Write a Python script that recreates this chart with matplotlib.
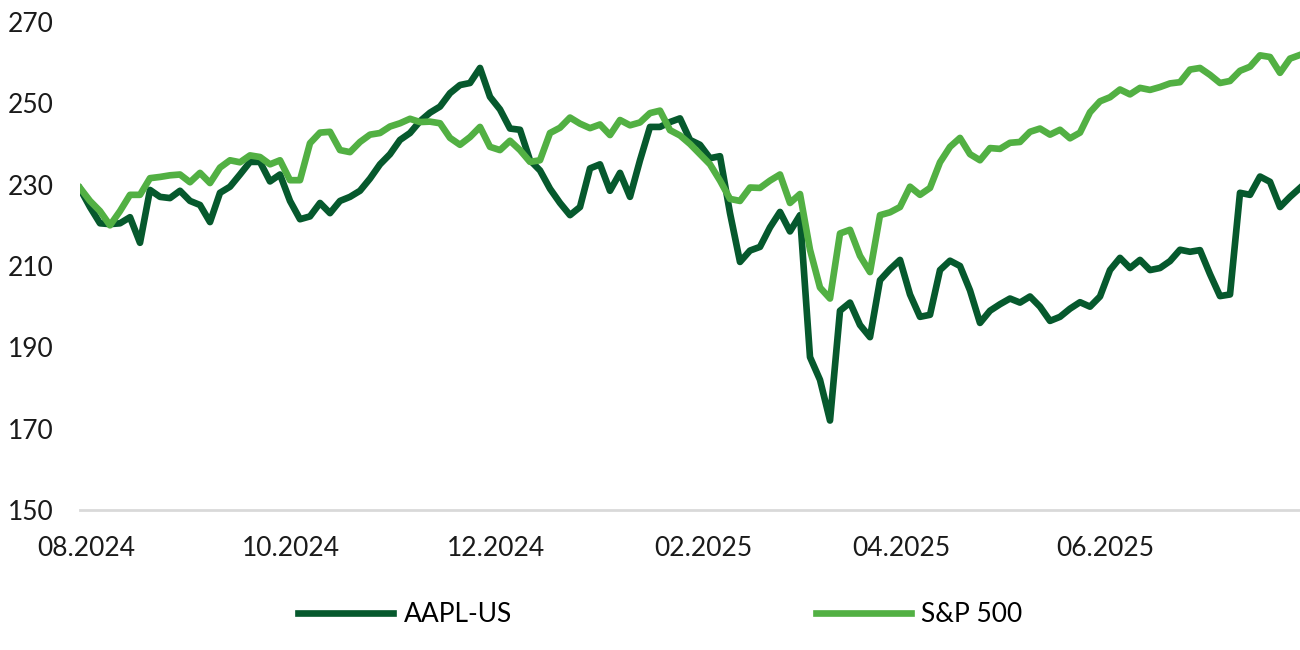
import matplotlib
matplotlib.use("Agg")
import matplotlib.pyplot as plt
import matplotlib.dates as mdates
import pandas as pd

# data (roughly every 3 days)
start_date = "2024-07-30"
end_date = "2025-07-29"

aapl = [229.0, 224.5, 220.5, 220.3, 220.5, 222.0, 215.7, 228.7, 227.0, 226.7,
        228.5, 226.0, 225.0, 220.8, 228.0, 229.5, 232.5, 235.6, 235.6, 230.8,
        232.5, 226.0, 221.5, 222.2, 225.5, 223.0, 226.0, 227.0, 228.5, 231.5,
        235.0, 237.5, 241.0, 242.7, 245.6, 247.7, 249.2, 252.5, 254.5, 255.0,
        258.7, 251.6, 248.5, 243.8, 243.5, 236.0, 233.5, 229.0, 225.5, 222.5,
        224.5, 234.0, 235.0, 228.5, 232.9, 227.0, 236.0, 244.2, 244.2, 245.4,
        246.3, 241.0, 239.8, 236.5, 237.0, 223.0, 211.0, 213.8, 214.7, 219.5,
        223.3, 218.5, 222.5, 187.6, 182.0, 172.0, 199.0, 201.0, 195.5, 192.5,
        206.5, 209.2, 211.5, 203.0, 197.5, 198.0, 209.0, 211.3, 210.0, 204.0,
        196.0, 199.0, 200.6, 202.0, 201.0, 202.5, 200.0, 196.5, 197.5, 199.5,
        201.1, 200.0, 202.5, 209.0, 212.0, 209.5, 211.5, 209.0, 209.5, 211.2,
        214.0, 213.5, 213.9, 208.0, 202.6, 203.0, 228.0, 227.5, 232.0, 230.7,
        224.5, 227.0, 229.2]

spx = [229.2, 226.0, 223.5, 220.0, 223.5, 227.5, 227.5, 231.6, 231.9, 232.3,
       232.5, 230.6, 232.9, 230.4, 234.2, 236.0, 235.5, 237.2, 236.8, 235.0,
       236.0, 231.1, 231.1, 240.2, 242.8, 243.0, 238.5, 238.0, 240.5, 242.3,
       242.7, 244.3, 245.1, 246.2, 245.4, 245.5, 245.1, 241.5, 239.8, 241.7,
       244.2, 239.3, 238.5, 240.8, 238.5, 235.6, 236.0, 242.7, 244.0, 246.5,
       245.0, 243.9, 244.8, 242.2, 245.9, 244.6, 245.3, 247.6, 248.2, 243.4,
       242.1, 240.0, 237.5, 235.0, 231.0, 226.5, 226.0, 229.3, 229.2, 231.0,
       232.5, 225.5, 227.7, 214.0, 204.7, 202.0, 218.0, 218.9, 212.5, 208.5,
       222.5, 223.2, 224.5, 229.5, 227.5, 229.2, 235.5, 239.3, 241.5, 237.5,
       236.0, 239.0, 238.8, 240.3, 240.5, 243.0, 243.8, 242.3, 243.5, 241.4,
       242.8, 247.8, 250.5, 251.5, 253.4, 252.2, 253.8, 253.3, 254.0, 254.9,
       255.2, 258.3, 258.7, 257.0, 255.0, 255.5, 258.0, 259.0, 261.8, 261.4,
       257.5, 261.0, 261.9]

series_names = ["AAPL-US", "S&P 500"]
colors = ["#06592d", "#52b043"]

dates = pd.date_range(start_date, end_date, periods=len(aapl))

plt.rcParams['font.family'] = ['Lato', 'DejaVu Sans']

fig = plt.figure(figsize=(13, 6.5), dpi=100)
ax = fig.add_axes([80 / 1300, 1 - 510 / 650, 1 - 80 / 1300, 488 / 650])

ax.plot(dates, aapl, color=colors[0], lw=4.8, label=series_names[0], solid_joinstyle='round')
ax.plot(dates, spx, color=colors[1], lw=4.8, label=series_names[1], solid_joinstyle='round')

ax.set_ylim(150, 270)
ax.set_yticks(range(150, 271, 20))
ax.set_xlim(dates[0], dates[-1])
ax.xaxis.set_major_locator(mdates.MonthLocator(bymonth=[2, 4, 6, 8, 10, 12]))
ax.xaxis.set_major_formatter(mdates.DateFormatter('%m.%Y'))

for s in ['top', 'right', 'left']:
    ax.spines[s].set_visible(False)
ax.spines['bottom'].set_color('#d9d9d9')
ax.spines['bottom'].set_linewidth(2)
ax.tick_params(length=0, labelsize=19, colors='#1a1a1a')
ax.tick_params(axis='y', pad=19)
ax.tick_params(axis='x', pad=19)

fig.legend(loc='center', bbox_to_anchor=(0.508, 1 - 615 / 650), ncol=2, frameon=False,
           fontsize=19, handlelength=3.6, handletextpad=0.4, columnspacing=11.5)

fig.savefig("out.png", dpi=100)
